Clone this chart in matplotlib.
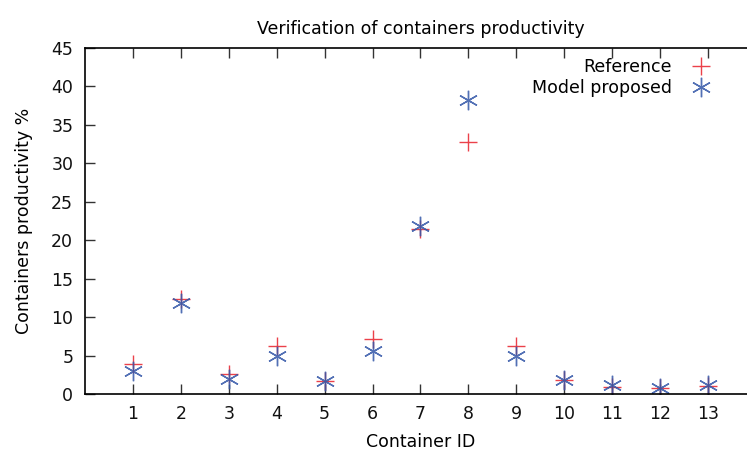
import numpy as np
import matplotlib
matplotlib.use("Agg")
import matplotlib.pyplot as plt

container_ids = [1, 2, 3, 4, 5, 6, 7, 8, 9, 10, 11, 12, 13]
reference = [3.9, 12.4, 2.6, 6.3, 1.7, 7.1, 21.4, 32.8, 6.3, 1.8, 0.95, 0.75, 1.05]
model_proposed = [3.0, 11.9, 2.0, 5.0, 1.7, 5.6, 21.9, 38.2, 5.0, 1.8, 1.2, 0.75, 1.2]

plt.rcParams['font.family'] = 'DejaVu Sans'
plt.rcParams['font.size'] = 12.5

fig = plt.figure(figsize=(7.47, 4.55), dpi=100)
# right edge of the frame falls outside the picture, like the original
ax = fig.add_axes([85 / 747, 1 - 394 / 455, (756 - 85) / 747, (394 - 48) / 455])

ax.plot(container_ids, reference, linestyle='none', marker='+', markersize=13,
        markeredgewidth=1.0, color='#e8202a', label='Reference', alpha=0.85)
ax.plot(container_ids, model_proposed, linestyle='none', marker=(6, 2, 0), markersize=14,
        markeredgewidth=1.0, color='#3457a8', label='Model proposed', alpha=0.85)

ax.set_xlim(0, 14)
ax.set_ylim(0, 45)
ax.set_xticks(container_ids)
ax.set_yticks(np.arange(0, 46, 5))
ax.tick_params(direction='in', length=7, width=1, top=True, right=False, colors='#333333',
               labelcolor='#111111', labelsize=12.5)
ax.tick_params(axis='y', pad=8.5)
ax.tick_params(axis='x', pad=8)
for s in ['left', 'bottom', 'top']:
    ax.spines[s].set_linewidth(1.2)
ax.spines['right'].set_visible(False)

ax.set_title('Verification of containers productivity', fontsize=12.5, pad=10)
ax.set_xlabel('Container ID', fontsize=12.5, labelpad=7)
ax.set_ylabel('Containers productivity %', fontsize=12.5, labelpad=13)

ax.legend(loc='upper right', bbox_to_anchor=((722 - 85) / (756 - 85), 1.0), frameon=False,
          markerfirst=False, fontsize=12.5, handlelength=1.2, handletextpad=1.1,
          labelspacing=0.15, borderaxespad=0.2)

fig.savefig('out.png', dpi=100)
